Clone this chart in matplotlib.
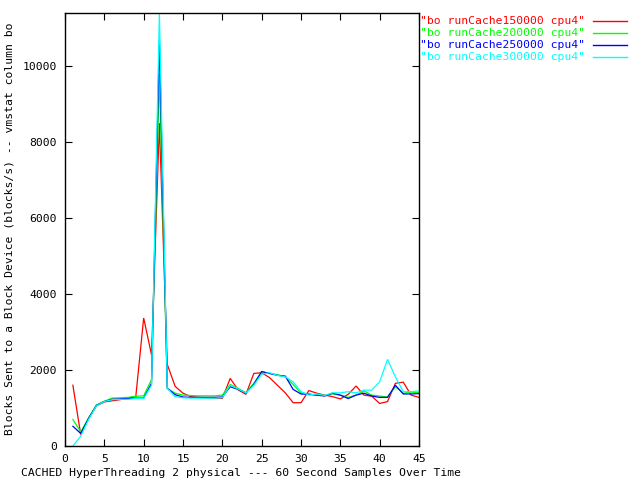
import matplotlib
matplotlib.use("Agg")
import matplotlib.pyplot as plt
from matplotlib.lines import Line2D

samples = list(range(1, 46))

series_names = [
    '"bo runCache150000 cpu4"',
    '"bo runCache200000 cpu4"',
    '"bo runCache250000 cpu4"',
    '"bo runCache300000 cpu4"',
]

bo_150000 = [1600, 300, 740, 1060, 1160, 1190, 1220, 1260, 1300, 3370,
             2400, 8500, 2150, 1570, 1390, 1300, 1280, 1270, 1260, 1250,
             1780, 1480, 1360, 1910, 1930, 1800, 1600, 1400, 1140, 1140,
             1460, 1390, 1340, 1300, 1240, 1360, 1580, 1340, 1310, 1120,
             1170, 1650, 1680, 1340, 1280]
bo_200000 = [700, 370, 740, 1080, 1180, 1260, 1270, 1280, 1310, 1320,
             1750, 9800, 1520, 1390, 1340, 1330, 1320, 1320, 1320, 1340,
             1620, 1520, 1400, 1650, 1960, 1910, 1880, 1820, 1620, 1400,
             1370, 1340, 1330, 1370, 1340, 1280, 1340, 1450, 1340, 1315,
             1290, 1560, 1390, 1420, 1400]
bo_250000 = [520, 330, 720, 1070, 1170, 1230, 1240, 1250, 1260, 1260,
             1650, 10700, 1520, 1350, 1290, 1280, 1280, 1280, 1280, 1290,
             1560, 1490, 1400, 1620, 1960, 1910, 1860, 1840, 1490, 1370,
             1360, 1340, 1315, 1390, 1340, 1250, 1340, 1390, 1315, 1280,
             1280, 1600, 1370, 1370, 1380]
bo_300000 = [0, 260, 700, 1060, 1170, 1220, 1230, 1230, 1250, 1250,
             1600, 11400, 1520, 1300, 1270, 1260, 1260, 1260, 1260, 1270,
             1600, 1500, 1400, 1600, 1890, 1930, 1860, 1820, 1690, 1430,
             1340, 1370, 1330, 1400, 1400, 1430, 1400, 1470, 1470, 1690,
             2280, 1820, 1430, 1430, 1450]

all_series = [bo_150000, bo_200000, bo_250000, bo_300000]
colors = ['#ff0000', '#00ff00', '#0000ff', '#00ffff']

x_ticks = [0, 5, 10, 15, 20, 25, 30, 35, 40, 45]
y_ticks = [0, 2000, 4000, 6000, 8000, 10000]

xlabel = "CACHED HyperThreading 2 physical --- 60 Second Samples Over Time"
ylabel = "Blocks Sent to a Block Device (blocks/s) -- vmstat column bo"

W, H = 640, 480
fig = plt.figure(figsize=(6.4, 4.8), dpi=100)
L, R, T, B = 65, 419, 13, 446
ax = fig.add_axes([L / W, 1 - B / H, (R - L) / W, (B - T) / H])

mono = 'DejaVu Sans Mono'
fs = 8.2

for vals, c in zip(all_series, colors):
    ax.plot(samples, vals, color=c, lw=0.9, solid_joinstyle='miter')

ax.set_xlim(0, 45)
ax.set_ylim(0, 11400)
ax.set_xticks(x_ticks)
ax.set_yticks(y_ticks)
ax.tick_params(direction='in', length=5, width=0.8, top=True, right=True,
               labelsize=fs, pad=6)
for lab in ax.get_xticklabels() + ax.get_yticklabels():
    lab.set_fontfamily(mono)
for s in ax.spines.values():
    s.set_linewidth(1.0)
    s.set_color('black')

fig.text(241 / W, 1 - 473 / H, xlabel, family=mono, fontsize=fs,
         ha='center', va='center')
fig.text(10 / W, 1 - 229 / H, ylabel, family=mono, fontsize=fs,
         ha='center', va='center', rotation=90)

rows = [21, 33, 45, 57]
for name, c, yy in zip(series_names, colors, rows):
    fig.text(585 / W, 1 - yy / H, name, family=mono, fontsize=fs,
             color=c, ha='right', va='center')
    fig.add_artist(Line2D([593 / W, 627 / W], [1 - yy / H, 1 - yy / H],
                          color=c, lw=1.0, transform=fig.transFigure))

fig.savefig('out.png', dpi=100)
